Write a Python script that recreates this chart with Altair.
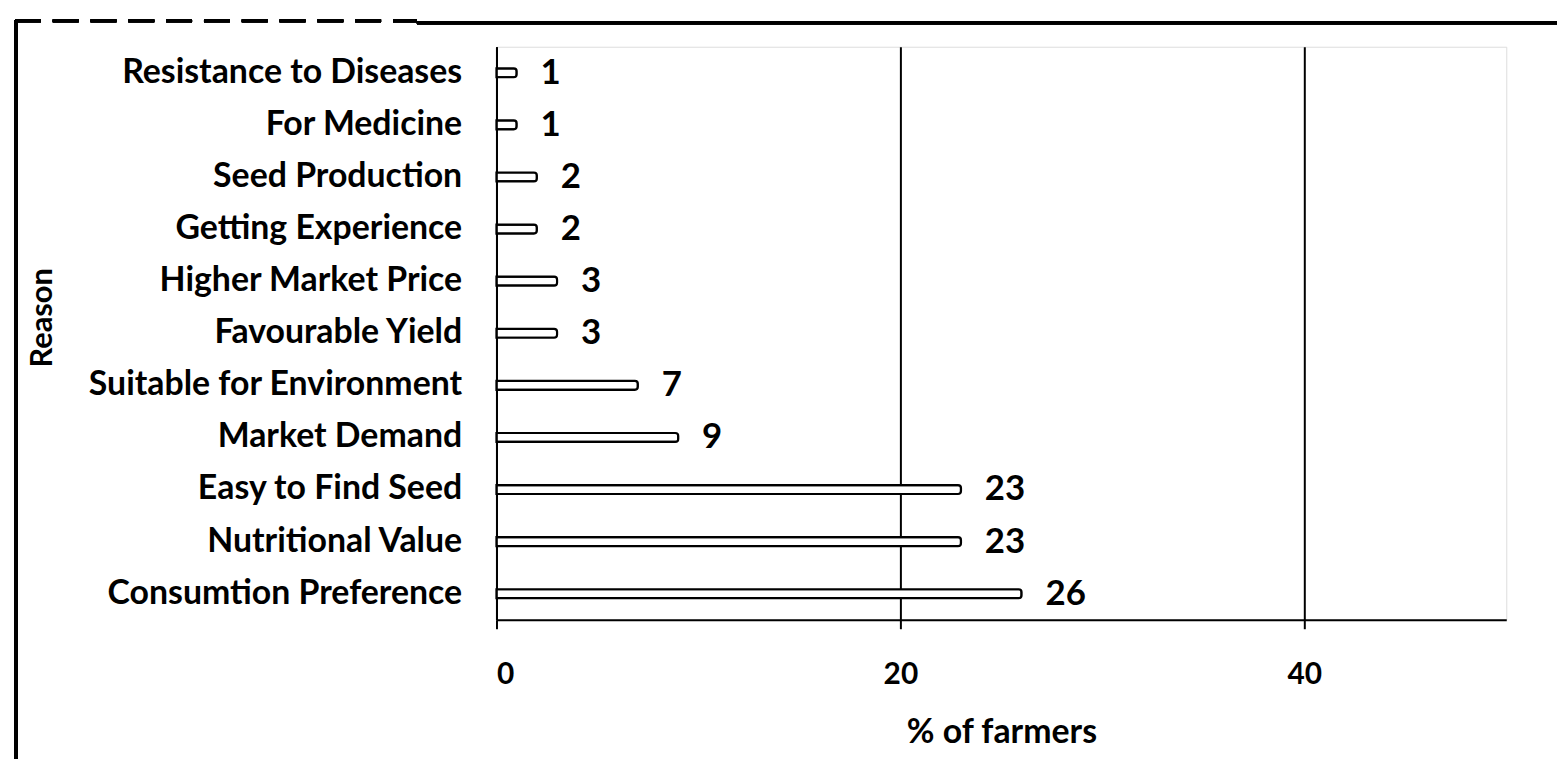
import altair as alt
import pandas as pd

reasons = [
    "Resistance to Diseases",
    "For Medicine",
    "Seed Production",
    "Getting Experience",
    "Higher Market Price",
    "Favourable Yield",
    "Suitable for Environment",
    "Market Demand",
    "Easy to Find Seed",
    "Nutritional Value",
    "Consumtion Preference",
]
percent = [1, 1, 2, 2, 3, 3, 7, 9, 23, 23, 26]
x_ticks = [0, 20, 40]

df = pd.DataFrame({"Reason": reasons, "pct": percent})

FONT = "Lato"
W, H = 1015, 576

y_enc = alt.Y(
    "Reason:N",
    sort=reasons,
    title="Reason",
    axis=alt.Axis(
        labelFont=FONT, labelFontSize=34, labelFontWeight="bold", labelColor="black",
        labelPadding=35, ticks=False, domainColor="black", domainWidth=2,
        titleFont=FONT, titleFontSize=31, titleFontWeight="bold", titleColor="black",
        titleX=-440, titleY=272, grid=False, labelLimit=600,
    ),
)
x_enc = alt.X(
    "pct:Q",
    scale=alt.Scale(domain=[0, 50], nice=False),
    title="% of farmers",
    axis=alt.Axis(
        values=x_ticks, labelFont=FONT, labelFontSize=30, labelFontWeight="bold",
        labelColor="black", labelPadding=31, tickSize=9, tickColor="black", tickWidth=2,
        domainColor="black", domainWidth=2, grid=True, gridColor="black", gridWidth=2,
        titleFont=FONT, titleFontSize=34, titleFontWeight="bold", titleColor="black",
        titlePadding=26,
    ),
)

bars = alt.Chart(df).mark_bar(
    fill="white", stroke="black", strokeWidth=2.2, size=9, cornerRadiusEnd=3
).encode(x=x_enc, y=y_enc)

labels = alt.Chart(df).mark_text(
    align="left", baseline="middle", dx=24, font=FONT, fontSize=35,
    fontWeight="bold", color="black"
).encode(x="pct:Q", y=alt.Y("Reason:N", sort=reasons), text="pct:Q")

left_border = alt.Chart(df).mark_rule(color="black", strokeWidth=3).encode(
    x=alt.value(-483), y=alt.value(-27), y2=alt.value(H + 140)
)
top_dashed = alt.Chart(df).mark_rule(
    color="black", strokeWidth=3, strokeDash=[26, 12]
).encode(x=alt.value(-484), x2=alt.value(-80), y=alt.value(-26))
top_solid = alt.Chart(df).mark_rule(color="black", strokeWidth=3).encode(
    x=alt.value(-80), x2=alt.value(1070), y=alt.value(-24)
)

chart = alt.layer(left_border, top_dashed, top_solid, bars, labels).properties(
    width=W, height=H,
    autosize=alt.AutoSizeParams(type="none"),
    padding={"left": 491, "top": 37, "right": 51, "bottom": 138},
).configure_view(stroke=None).configure(background="white")

chart.save("out.html", embed_options={"renderer": "svg", "actions": False})
